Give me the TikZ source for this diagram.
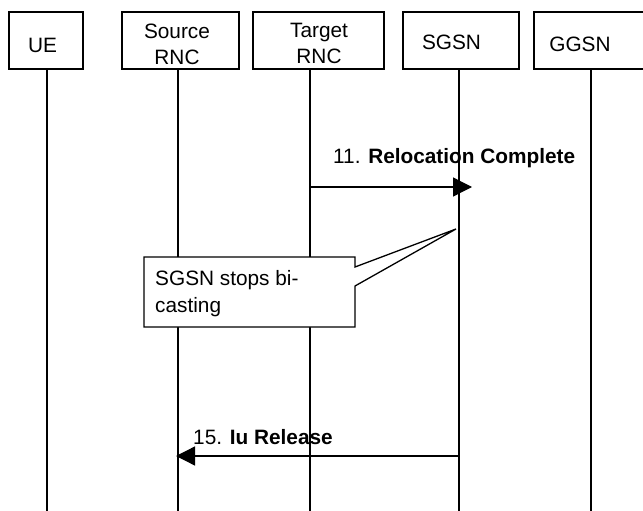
\documentclass[tikz,border=0pt]{standalone}
\usepackage{fontspec}
\setmainfont{Liberation Sans}
\usetikzlibrary{arrows.meta}
\begin{document}
\begin{tikzpicture}[x=1pt, y=-1pt,
    ent/.style={draw, line width=2pt, minimum height=57pt, inner sep=0pt},
    txt/.style={anchor=base, align=center, inner sep=0pt,
      font=\fontsize{20.8}{26}\selectfont},
    life/.style={line width=2pt},
    msg/.style={line width=1.3pt, -{Triangle[length=19pt, width=19pt]}}]
    \useasboundingbox (0,0) rectangle (643,511);
    \clip (0,0) rectangle (643,511);
    \node[ent, minimum width=74pt] (ue) at (46,40.5) {};
    \node[ent, minimum width=117pt] (src) at (180.5,40.5) {};
    \node[ent, minimum width=131pt] (tgt) at (318.5,40.5) {};
    \node[ent, minimum width=116pt] (sgsn) at (461,40.5) {};
    \node[ent, minimum width=116pt] (ggsn) at (592,40.5) {};
    \node[txt] (ue_t) at (42.5,53) {UE};
    \node[txt] (src_t) at (177,65) {Source\\RNC};
    \node[txt] (tgt_t) at (319,64) {Target\\RNC};
    \node[txt] (sgsn_t) at (451.5,50) {SGSN};
    \node[txt] (ggsn_t) at (580,52) {GGSN};
    \foreach \n/\x in {ue/47, src/178, tgt/310, sgsn/459, ggsn/591}
      \draw[life] (\n.south -| \x,0) -- (\x,511);
    % callout
    \draw[line width=1.3pt, fill=white] (144,257) -- (355,257) -- (355,267)
      -- (456,229) -- (355,286) -- (355,327) -- (144,327) -- cycle;
    \node[txt, anchor=base west, align=left,
      font=\fontsize{20.8}{27}\selectfont] (stop) at (155,312) {SGSN stops bi-\\casting};
    % messages
    \coordinate (m11_a) at (310,187);
    \coordinate (m11_b) at (472,187);
    \coordinate (m15_a) at (459,456);
    \coordinate (m15_b) at (176,456);
    \draw[msg] (m11_a) -- (m11_b);
    \draw[msg] (m15_a) -- (m15_b);
    \node[txt, anchor=base west] (m11_t) at (333,163) {11. \textbf{Relocation Complete}};
    \node[txt, anchor=base west] (m15_t) at (193,444) {15. \textbf{Iu Release}};
  \end{tikzpicture}
\end{document}
